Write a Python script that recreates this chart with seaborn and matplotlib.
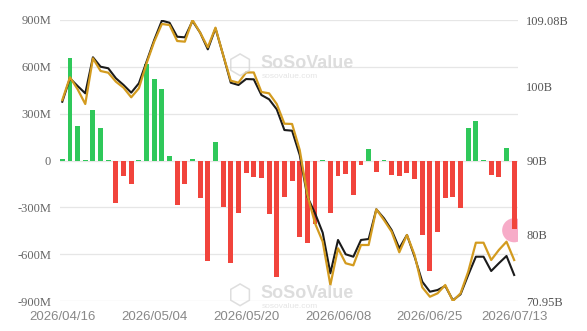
import numpy as np
import pandas as pd
import matplotlib
matplotlib.use("Agg")
import matplotlib.pyplot as plt
import seaborn as sns

# ---- data ----
dates = [
    "2026/04/16", "2026/04/17", "2026/04/20", "2026/04/21", "2026/04/22", "2026/04/23", "2026/04/24",
    "2026/04/27", "2026/04/28", "2026/04/29", "2026/04/30", "2026/05/01",
    "2026/05/04", "2026/05/05", "2026/05/06", "2026/05/07", "2026/05/08",
    "2026/05/11", "2026/05/12", "2026/05/13", "2026/05/14", "2026/05/15",
    "2026/05/18", "2026/05/19", "2026/05/20", "2026/05/21", "2026/05/22",
    "2026/05/26", "2026/05/27", "2026/05/28", "2026/05/29",
    "2026/06/01", "2026/06/02", "2026/06/03", "2026/06/04", "2026/06/05",
    "2026/06/08", "2026/06/09", "2026/06/10", "2026/06/11", "2026/06/12",
    "2026/06/15", "2026/06/16", "2026/06/17", "2026/06/18",
    "2026/06/22", "2026/06/23", "2026/06/24", "2026/06/25", "2026/06/26",
    "2026/06/29", "2026/06/30", "2026/07/01", "2026/07/02",
    "2026/07/06", "2026/07/07", "2026/07/08", "2026/07/09", "2026/07/10",
    "2026/07/13",
]

# daily net inflow (millions USD)
net_inflow = [
    10, 655, 224, 5, 326, 210, 3, -272, -98, -149,
    3, 617, 521, 455, 32, -283, -153, 10, -243, -645,
    117, -298, -659, -338, -78, -108, -110, -345, -745, -236,
    -132, -492, -530, -404, 3, -334, -100, -85, -223, -27,
    74, -72, 4, -91, -100, -77, -121, -479, -707, -455,
    -239, -232, -305, 208, 255, 6, -93, -103, 79, -436,
]

# total net assets (billions USD) - black line
total_assets = [
    97.99, 101.17, 100.12, 99.13, 104.02, 102.74, 102.53, 101.17, 100.26, 99.22,
    100.49, 103.42, 106.37, 108.99, 108.71, 106.81, 106.73, 108.95, 107.36, 105.10,
    107.95, 104.33, 100.57, 100.26, 101.07, 101.03, 98.90, 98.32, 96.96, 94.15,
    94.06, 90.76, 85.10, 82.85, 80.22, 74.71, 79.23, 77.29, 76.96, 79.23,
    79.36, 83.39, 82.17, 80.58, 78.10, 79.91, 76.96, 73.57, 72.21, 72.44,
    72.99, 71.05, 71.86, 74.48, 76.96, 76.96, 75.02, 76.07, 77.06, 74.48,
]

# second series (billions scale) - gold line
gold_series = [
    98.22, 101.31, 99.68, 97.68, 103.88, 102.16, 101.93, 100.71, 99.89, 98.59,
    99.81, 103.20, 106.14, 108.54, 108.40, 106.23, 106.14, 109.08, 107.36, 105.38,
    108.04, 104.33, 100.84, 100.57, 101.96, 101.96, 99.31, 99.13, 97.68, 95.01,
    94.97, 91.44, 85.33, 81.49, 79.00, 73.12, 78.10, 76.07, 75.79, 78.55,
    78.55, 83.39, 81.94, 80.35, 77.56, 79.91, 77.19, 72.81, 71.53, 71.99,
    73.12, 70.95, 71.99, 74.93, 78.86, 78.86, 76.51, 77.87, 79.00, 76.51,
]

left_ticks = [-900, -600, -300, 0, 300, 600, 900]
left_labels = ["-900M", "-600M", "-300M", "0", "300M", "600M", "900M"]
right_ticks = [70.95, 80, 90, 100, 109.08]
right_labels = ["70.95B", "80B", "90B", "100B", "109.08B"]
xtick_idx = [0, 12, 24, 36, 48, 59]

# ---- figure ----
W, H = 587, 331
fig = plt.figure(figsize=(W / 100, H / 100), dpi=100)
ax = fig.add_axes([60 / W, 1 - 301 / H, (518 - 60) / W, (301 - 20) / H])

idx = np.arange(len(dates))
df = pd.DataFrame({
    "i": idx,
    "flow": net_inflow,
    "sign": ["in" if v >= 0 else "out" for v in net_inflow],
})

sns.barplot(data=df, x="i", y="flow", hue="sign", dodge=False,
            palette={"in": "#2fc85a", "out": "#f1443c"}, width=0.64,
            saturation=1, legend=False, ax=ax, zorder=2)

ax.scatter([59], [-447], s=300, color="#f7a3c2", alpha=0.9, zorder=1.5,
           edgecolors="none")

ax.set_ylim(-900, 900)
ax.set_xlim(-0.3, 59.5)
ax.set_yticks(left_ticks)
ax.set_yticklabels(left_labels)
ax.set_xticks(xtick_idx)
ax.set_xticklabels([dates[k] for k in xtick_idx])
ax.set_xlabel("")
ax.set_ylabel("")
ax.set_axisbelow(True)
ax.yaxis.grid(True, color="#e6e6e6", lw=0.9)
ax.xaxis.grid(False)
for s in ax.spines.values():
    s.set_visible(False)
ax.tick_params(axis="y", length=0, pad=6.5, labelsize=9, labelcolor="#666666")
ax.tick_params(axis="x", length=0, pad=7, labelsize=9.5, labelcolor="#888888")
for t in ax.get_yticklabels():
    t.set_fontfamily("Liberation Serif")
for t in ax.get_xticklabels():
    t.set_fontfamily("Liberation Sans")

ax2 = ax.twinx()
sns.lineplot(x=idx, y=total_assets, ax=ax2, color="#1b1b1b", lw=1.5, zorder=3)
sns.lineplot(x=idx, y=gold_series, ax=ax2, color="#d39b1f", lw=1.6, zorder=4)
ax2.set_ylim(70.95, 109.08)
ax2.set_yticks(right_ticks)
ax2.set_yticklabels(right_labels)
ax2.set_ylabel("")
for s in ax2.spines.values():
    s.set_visible(False)
ax2.tick_params(axis="y", length=0, pad=6, labelsize=9, labelcolor="#555555")
for t in ax2.get_yticklabels():
    t.set_fontfamily("Liberation Serif")
ax2.grid(False)

# watermarks
for (lx, ly) in [(240, 66), (240, 296)]:
    fig.text(lx / W, 1 - ly / H, "\u2b21", fontsize=20, color="#d6d6d6",
             ha="center", va="center", alpha=0.8, family="DejaVu Sans")
    fig.text((lx + 20) / W, 1 - (ly - 3) / H, "SoSoValue", fontsize=13,
             color="#d8d8d8", ha="left", va="center", weight="bold",
             family="Liberation Sans", alpha=0.85)
    fig.text((lx + 22) / W, 1 - (ly + 10) / H, "sosovalue.com", fontsize=6,
             color="#e0e0e0", ha="left", va="center", family="Liberation Sans",
             alpha=0.85)

fig.savefig("out.png", dpi=100)
